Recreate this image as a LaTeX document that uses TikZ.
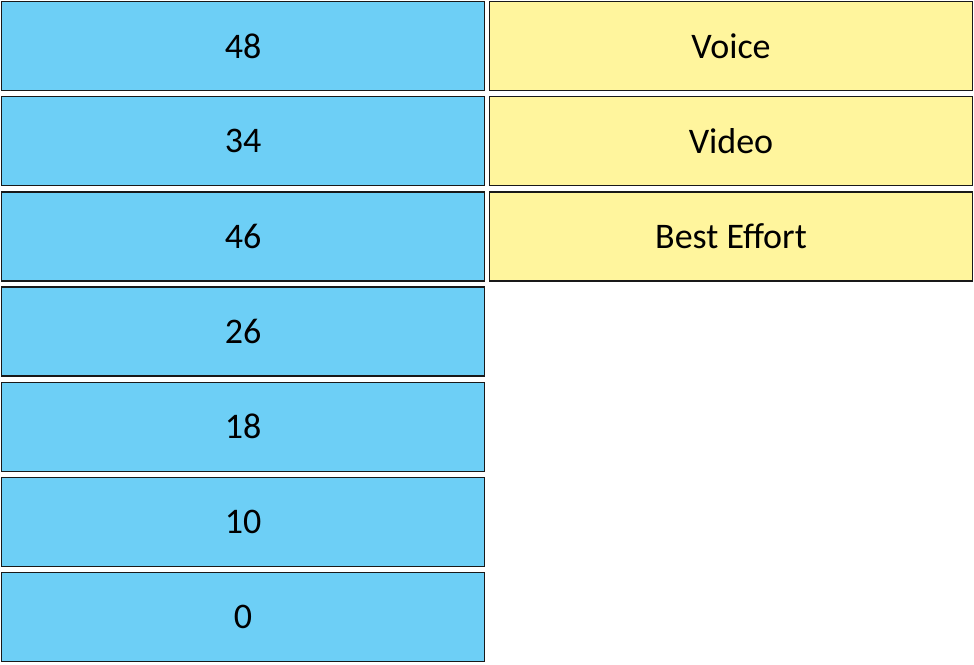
\documentclass[tikz,border=0pt]{standalone}
\usepackage{fontspec}
\setmainfont{Carlito}
\usetikzlibrary{
  positioning,
}
\definecolor{dscpblue}{HTML}{6DCFF6}
\definecolor{classyellow}{HTML}{FFF59D}
\tikzset{
  dscp/.style={
    rectangle,
    minimum width=241.5pt,
    minimum height=44.5pt,
    text centered,
    draw=black!90,
    line width=0.7pt,
    fill=dscpblue,
    font=\fontsize{18}{20}\selectfont,
  },
  class/.style={
    dscp,
    fill=classyellow,
  },
}
\begin{document}
\begin{tikzpicture}[node distance=2.4pt and 1.8pt]

  \useasboundingbox (0,0) rectangle (487pt,-332pt);

  \node[dscp, anchor=north west] (d48) at (0.4pt,-0.4pt) {48};
  \node[dscp, below=of d48] (d34) {34};
  \node[dscp, below=of d34] (d46) {46};
  \node[dscp, below=of d46] (d26) {26};
  \node[dscp, below=of d26] (d18) {18};
  \node[dscp, below=of d18] (d10) {10};
  \node[dscp, below=of d10] (d0) {0};

  \node[class, right=of d48] (voice) {Voice};
  \node[class, right=of d34] (video) {Video};
  \node[class, right=of d46] (besteffort) {Best Effort};

\end{tikzpicture}
\end{document}
